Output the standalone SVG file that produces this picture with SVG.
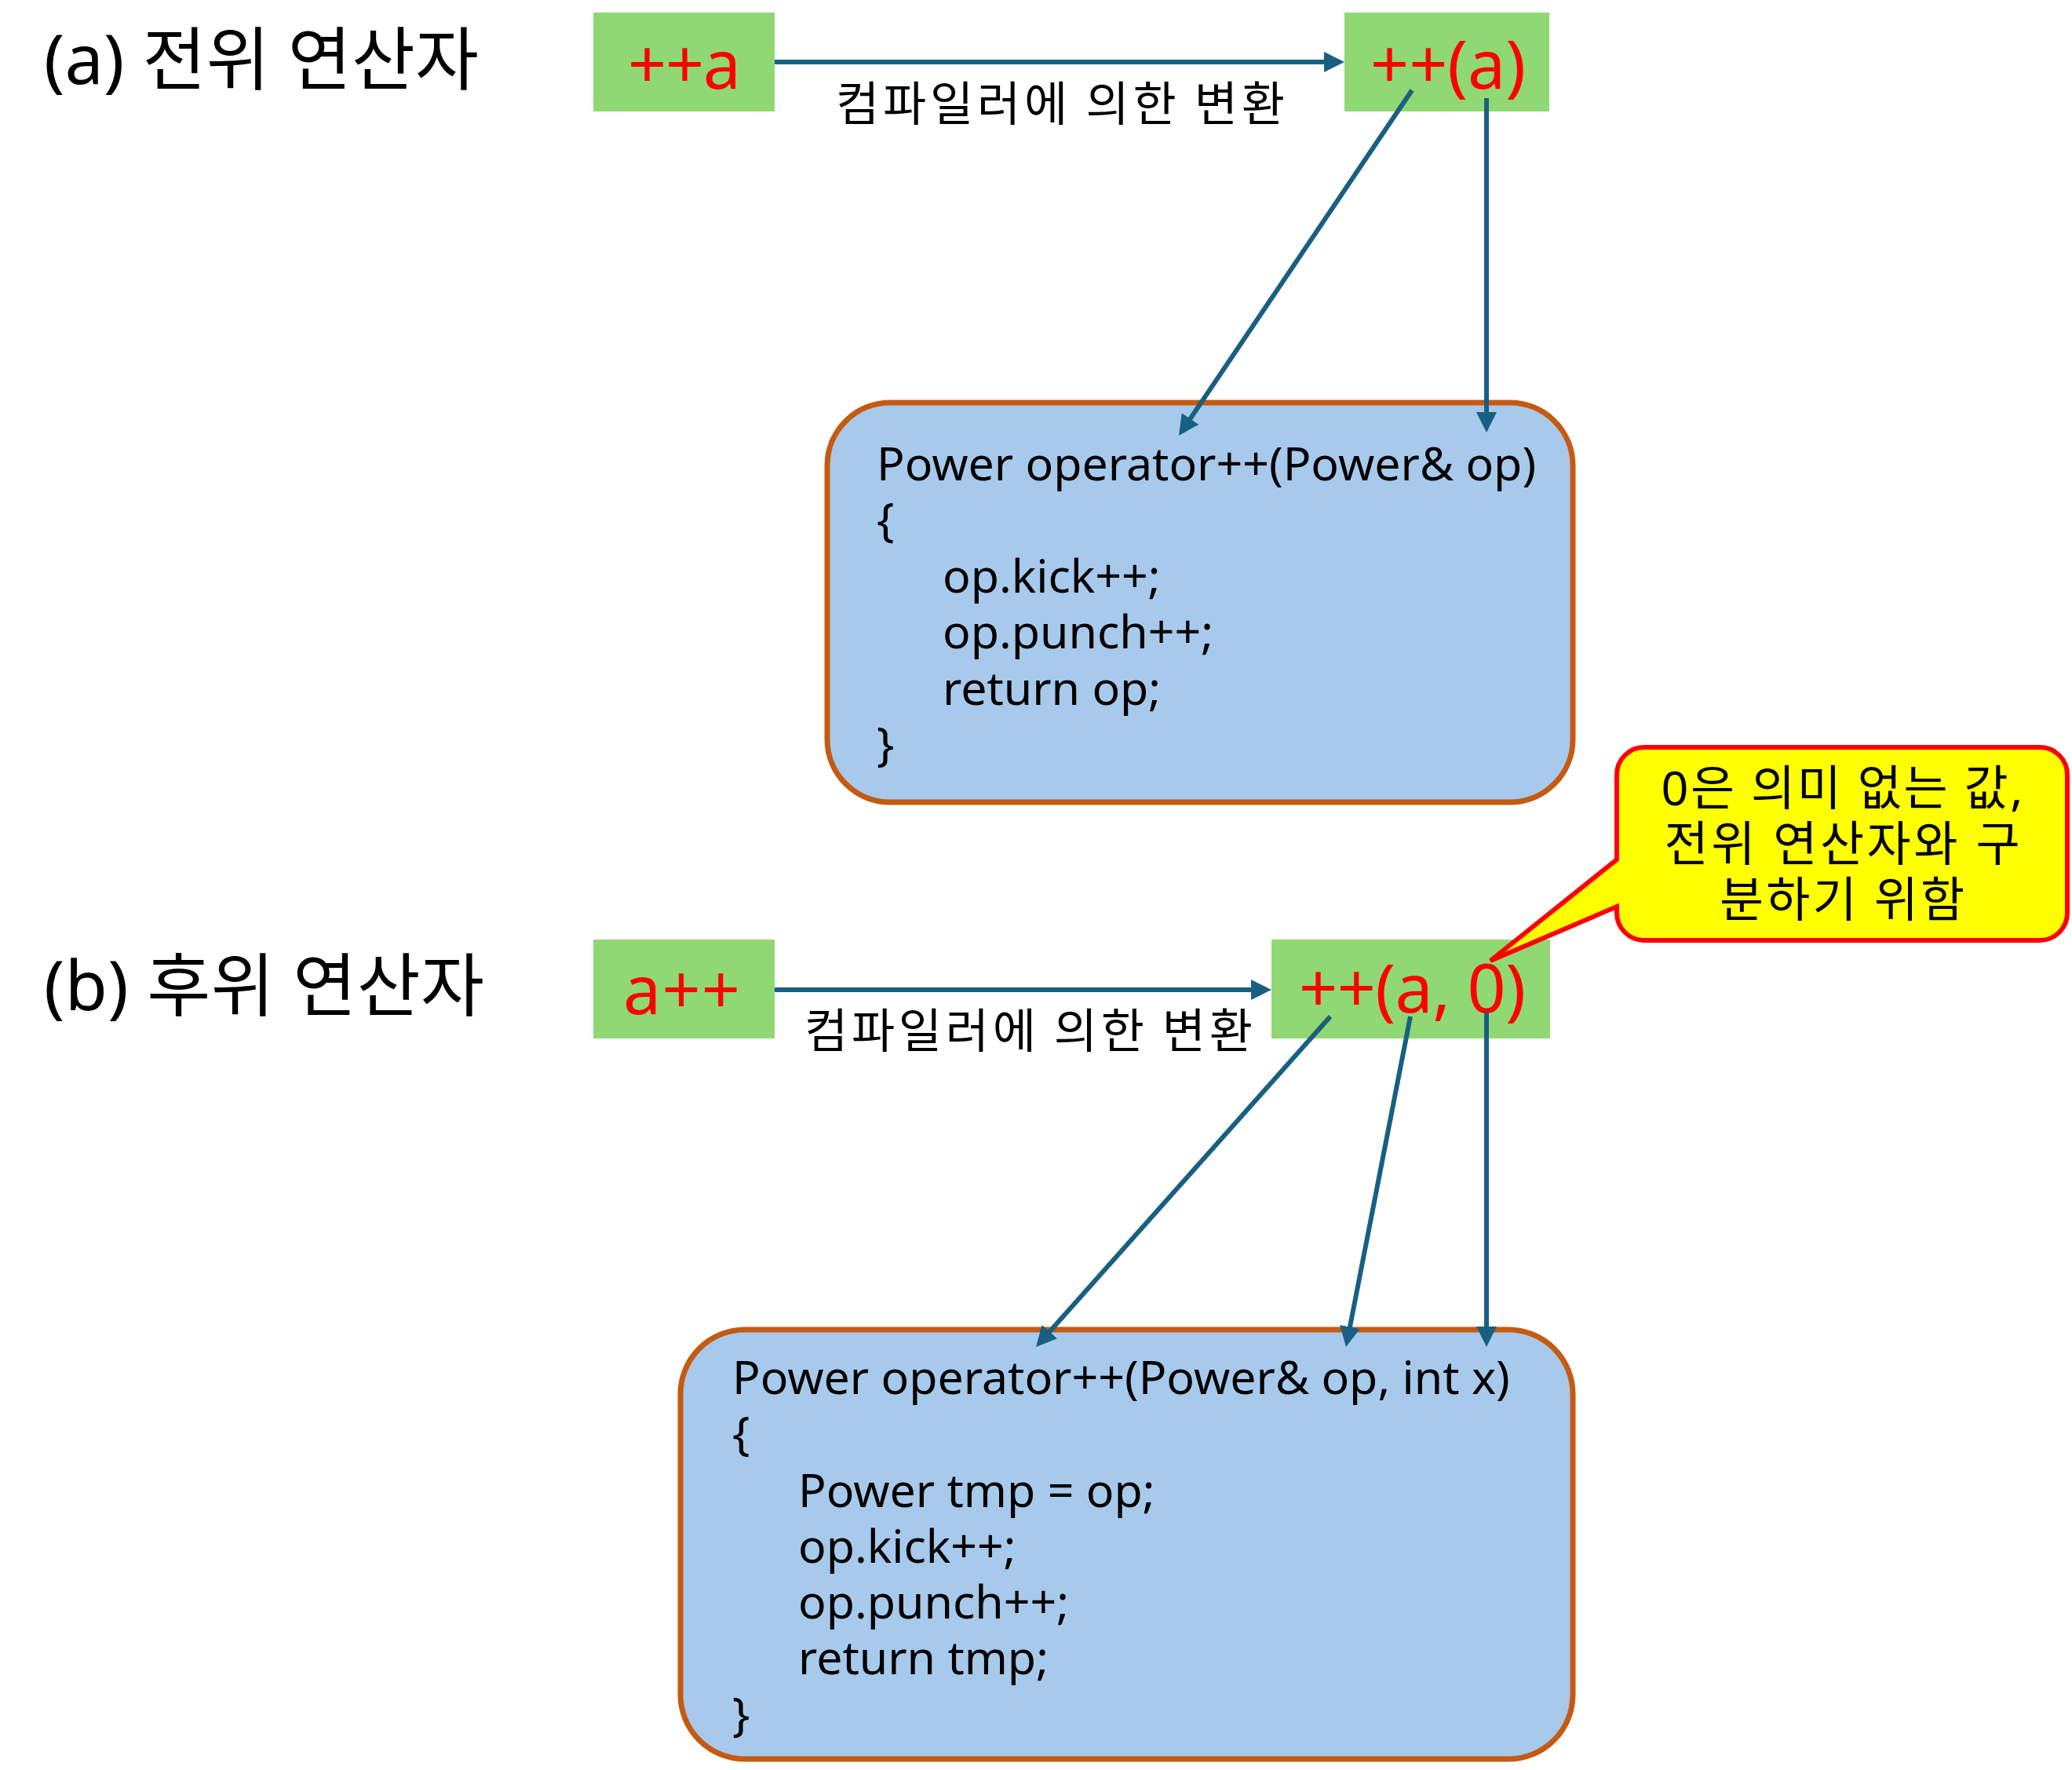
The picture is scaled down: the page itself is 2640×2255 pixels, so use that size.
<svg xmlns="http://www.w3.org/2000/svg" width="2640" height="2255" viewBox="0 0 2640 2255">
<style>
.title{font-family:"Noto Sans","Noto Sans CJK KR",sans-serif;font-size:88px;fill:#000}
.lbl{font-family:"Noto Sans CJK KR",sans-serif;font-size:60px;fill:#000}
.red{font-family:"Noto Sans",sans-serif;font-size:86px;fill:#FF0000}
.code{font-family:"Noto Sans",sans-serif;font-size:59px;fill:#000}
.call{font-family:"Noto Sans","Noto Sans CJK KR",sans-serif;font-size:61px;fill:#000;text-anchor:middle}
.green{fill:#90D873}
.cbox{fill:#A7C9EB;stroke:#C55A11;stroke-width:7}
.conn{stroke:#185F82;stroke-width:6;fill:none;marker-end:url(#ah)}
</style>
<defs>
<marker id="ah" viewBox="0 0 26 26" refX="14" refY="13" markerWidth="26" markerHeight="26" markerUnits="userSpaceOnUse" orient="auto">
<path d="M0,0 L26,13 L0,26 Z" fill="#185F82"/>
</marker>
</defs>
<rect width="2640" height="2255" fill="#FFFFFF"/>

<g id="title-a"><text class="title" x="56" y="107" textLength="554" lengthAdjust="spacing">(a) 전위 연산자</text></g>
<g id="title-b"><text class="title" x="56" y="1287" textLength="561" lengthAdjust="spacing">(b) 후위 연산자</text></g>

<g id="node-pre-a">
<rect class="green" x="756" y="16" width="231" height="126"/>
<text class="red" x="800" y="113" textLength="144" lengthAdjust="spacing">++a</text>
</g>
<g id="node-pre-call">
<rect class="green" x="1713" y="16" width="261" height="126"/>
<text class="red" x="1746" y="113" textLength="198" lengthAdjust="spacing">++(a)</text>
</g>
<g id="node-pre-func">
<rect class="cbox" x="1054" y="513" width="950" height="509" rx="80" ry="80"/>
<text class="code" x="1117" y="612">Power operator++(Power&amp; op)</text>
<text class="code" x="1117" y="683">{</text>
<text class="code" x="1201" y="755">op.kick++;</text>
<text class="code" x="1201" y="826">op.punch++;</text>
<text class="code" x="1201" y="898">return op;</text>
<text class="code" x="1117" y="969">}</text>
</g>

<g id="node-post-a">
<rect class="green" x="756" y="1197" width="231" height="126"/>
<text class="red" x="794" y="1292" textLength="149" lengthAdjust="spacing">a++</text>
</g>
<g id="node-post-call">
<rect class="green" x="1620" y="1197" width="355" height="126"/>
<text class="red" x="1655" y="1290" textLength="289" lengthAdjust="spacing">++(a, 0)</text>
</g>
<g id="node-post-func">
<rect class="cbox" x="867" y="1694" width="1137" height="547" rx="82" ry="82"/>
<text class="code" x="933" y="1776">Power operator++(Power&amp; op, int x)</text>
<text class="code" x="933" y="1847">{</text>
<text class="code" x="1017" y="1920">Power tmp = op;</text>
<text class="code" x="1017" y="1991">op.kick++;</text>
<text class="code" x="1017" y="2062">op.punch++;</text>
<text class="code" x="1017" y="2133">return tmp;</text>
<text class="code" x="933" y="2205">}</text>
</g>

<g id="callout">
<path d="M2095,952 H2599 A35,35 0 0 1 2634,987 V1163 A35,35 0 0 1 2599,1198 H2095 A35,35 0 0 1 2060,1163 V1155 L1899,1224 L2060,1095 V987 A35,35 0 0 1 2095,952 Z" fill="#FFFF00" stroke="#FF0000" stroke-width="6" stroke-linejoin="miter"/>
<text class="call" x="2347" y="1026" textLength="461" lengthAdjust="spacing">0은 의미 없는 값,</text>
<text class="call" x="2347" y="1097" textLength="453" lengthAdjust="spacing">전위 연산자와 구</text>
<text class="call" x="2347" y="1168" textLength="312" lengthAdjust="spacing">분하기 위함</text>
</g>

<g id="connectors">
<line class="conn" x1="987" y1="79" x2="1701" y2="79"/>
<line class="conn" x1="1799" y1="115" x2="1508.7" y2="545.1"/>
<line class="conn" x1="1894" y1="125" x2="1894" y2="539"/>
<line class="conn" x1="987" y1="1261" x2="1608" y2="1261"/>
<line class="conn" x1="1695" y1="1295" x2="1328" y2="1707"/>
<line class="conn" x1="1797" y1="1295" x2="1717.3" y2="1704.2"/>
<line class="conn" x1="1894" y1="1290" x2="1894" y2="1704"/>
<text class="lbl" x="1065" y="154" textLength="572" lengthAdjust="spacing">컴파일러에 의한 변환</text>
<text class="lbl" x="1025" y="1335" textLength="571" lengthAdjust="spacing">컴파일러에 의한 변환</text>
</g>
</svg>
